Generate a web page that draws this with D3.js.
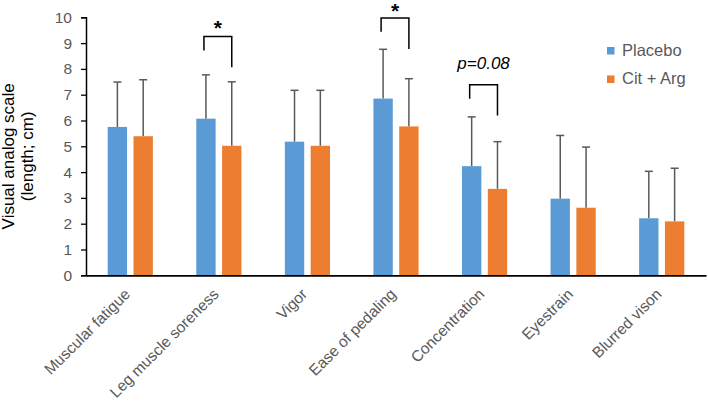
<!DOCTYPE html>
<html>
<head>
<meta charset="utf-8">
<script src="https://cdn.jsdelivr.net/npm/d3@7"></script>
<style>
  html, body { margin: 0; padding: 0; background: #fff; }
  svg { display: block; font-family: "Liberation Sans", Arial, sans-serif; }
</style>
</head>
<body>
<svg id="chart" width="708" height="402"></svg>
<script>
const categories = ["Muscular fatigue", "Leg muscle soreness", "Vigor", "Ease of pedaling", "Concentration", "Eyestrain", "Blurred vison"];
const seriesNames = ["Placebo", "Cit + Arg"];
const placeboMean = [5.75, 6.07, 5.18, 6.85, 4.23, 2.97, 2.21];
const placeboSD   = [1.74, 1.70, 1.99, 1.91, 1.91, 2.45, 1.82];
const citArgMean  = [5.39, 5.02, 5.02, 5.77, 3.35, 2.62, 2.09];
const citArgSD    = [2.19, 2.48, 2.15, 1.85, 1.83, 2.35, 2.06];
const yTicks = [0, 1, 2, 3, 4, 5, 6, 7, 8, 9, 10];
const colors = ["#5B9BD5", "#ED7D31"];
// significance brackets: category, bracket top, left leg end, right leg end, label, label baseline level
const annotations = [
  { cat: "Leg muscle soreness", top: 9.26, left: 8.71, right: 8.06, label: "*", labelY: 9.31 },
  { cat: "Ease of pedaling",    top: 9.97, left: 9.44, right: 8.77, label: "*", labelY: 9.99 },
  { cat: "Concentration",       top: 7.39, left: 6.84, right: 6.19, label: "p=0.08", labelY: 7.99 }
];

const svg = d3.select("#chart");
const margin = { left: 86, right: 2, top: 17.3, bottom: 126.7 };
const W = 708, H = 402;

const x0 = d3.scaleBand().domain(categories).range([margin.left, W - margin.right]);
const bw = x0.bandwidth();
const x1 = d3.scaleBand().domain(seriesNames).range([bw * 0.245, bw * 0.755]).paddingInner(0.25);
const y = d3.scaleLinear().domain([0, 10]).range([H - margin.bottom, margin.top]);

const data = categories.map((c, i) => ({
  cat: c,
  vals: [
    { s: seriesNames[0], m: placeboMean[i], sd: placeboSD[i], col: colors[0] },
    { s: seriesNames[1], m: citArgMean[i], sd: citArgSD[i], col: colors[1] }
  ]
}));

const groups = svg.append("g").selectAll("g").data(data).join("g")
  .attr("transform", d => `translate(${x0(d.cat)},0)`);

groups.selectAll("line.err").data(d => d.vals).join("line")
  .attr("class", "err")
  .attr("x1", d => x1(d.s) + x1.bandwidth() / 2)
  .attr("x2", d => x1(d.s) + x1.bandwidth() / 2)
  .attr("y1", d => y(d.m))
  .attr("y2", d => y(d.m + d.sd))
  .attr("stroke", "#595959").attr("stroke-width", 1.5);

groups.selectAll("line.cap").data(d => d.vals).join("line")
  .attr("class", "cap")
  .attr("x1", d => x1(d.s) + x1.bandwidth() / 2 - 4)
  .attr("x2", d => x1(d.s) + x1.bandwidth() / 2 + 4)
  .attr("y1", d => y(d.m + d.sd))
  .attr("y2", d => y(d.m + d.sd))
  .attr("stroke", "#595959").attr("stroke-width", 1.5);

groups.selectAll("rect").data(d => d.vals).join("rect")
  .attr("x", d => x1(d.s))
  .attr("width", x1.bandwidth())
  .attr("y", d => y(d.m))
  .attr("height", d => y(0) - y(d.m))
  .attr("fill", d => d.col);

// y axis
const yAxis = svg.append("g")
  .attr("transform", `translate(${margin.left},0)`)
  .call(d3.axisLeft(y).tickValues(yTicks).tickSize(5).tickPadding(9));
yAxis.select(".domain").attr("stroke", "#000").attr("stroke-width", 1.5);
yAxis.selectAll(".tick line").attr("stroke", "#000").attr("stroke-width", 1.3);
yAxis.selectAll(".tick text").attr("fill", "#595959").style("font-size", "15.5px")
  .style("font-family", "Liberation Sans, Arial, sans-serif");

// x axis line + rotated labels
const xAxis = svg.append("g")
  .attr("transform", `translate(0,${y(0)})`)
  .call(d3.axisBottom(x0).tickSize(0).tickPadding(0));
xAxis.select(".domain").attr("stroke", "#000").attr("stroke-width", 1.8);
xAxis.selectAll(".tick text")
  .attr("fill", "#595959")
  .style("font-size", "15.5px")
  .style("font-family", "Liberation Sans, Arial, sans-serif")
  .attr("text-anchor", "end")
  .attr("dy", "0.35em")
  .attr("y", 0)
  .attr("x", 0)
  .attr("transform", "translate(-3,16) rotate(-45)");

// y axis title
const yt = svg.append("text")
  .attr("transform", `translate(14,${(y(0) + y(10)) / 2 + 10}) rotate(-90)`)
  .attr("text-anchor", "middle")
  .attr("fill", "#000")
  .style("font-size", "17px");
yt.append("tspan").attr("x", 0).attr("dy", 0).text("Visual analog scale");
yt.append("tspan").attr("x", 0).attr("dy", "1.1em").text("(length; cm)");

// significance brackets
annotations.forEach(a => {
  const xl = x0(a.cat) + x1(seriesNames[0]) + x1.bandwidth() / 2 - 2;
  const xr = x0(a.cat) + x1(seriesNames[1]) + x1.bandwidth() / 2;
  svg.append("path")
    .attr("d", `M${xl},${y(a.left)}V${y(a.top)}H${xr}V${y(a.right)}`)
    .attr("fill", "none").attr("stroke", "#000").attr("stroke-width", 1.5);
  const isStar = a.label === "*";
  svg.append("text")
    .attr("x", (xl + xr) / 2)
    .attr("y", y(a.labelY))
    .attr("text-anchor", "middle")
    .attr("fill", "#000")
    .style("font-size", isStar ? "21px" : "17px")
    .style("font-weight", isStar ? "bold" : "normal")
    .style("font-style", isStar ? "normal" : "italic")
    .text(a.label);
});

// legend
const leg = svg.append("g").attr("transform", "translate(607,47)");
seriesNames.forEach((s, i) => {
  const g = leg.append("g").attr("transform", `translate(0,${i * 28.5})`);
  g.append("rect").attr("width", 7.5).attr("height", 7.5).attr("fill", colors[i]);
  g.append("text").attr("x", 15).attr("y", 8.5).attr("fill", "#595959")
    .style("font-size", "16.5px").text(s);
});
</script>
</body>
</html>
